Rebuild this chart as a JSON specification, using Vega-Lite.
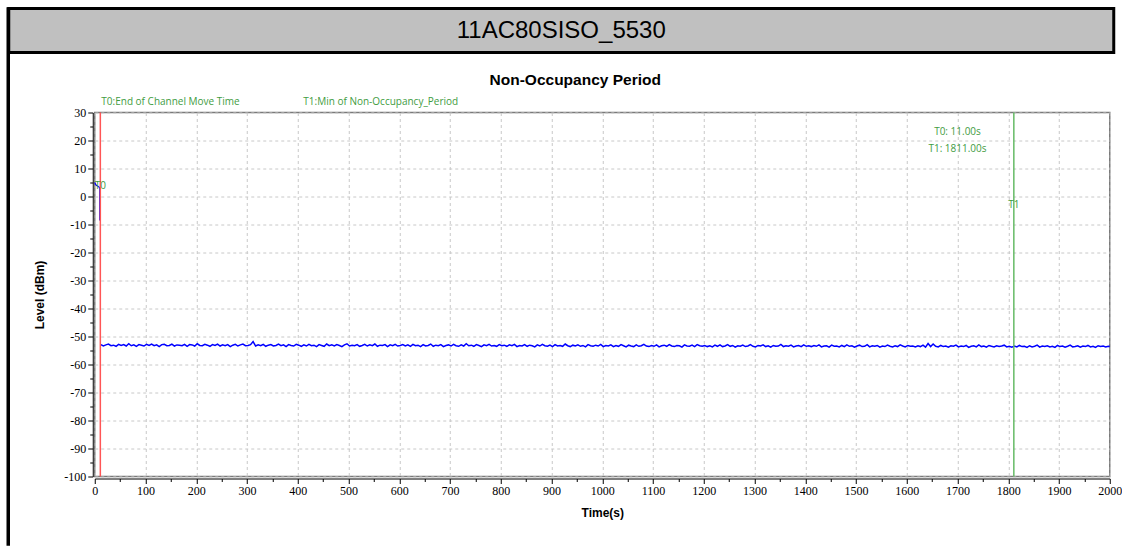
{
  "$schema": "https://vega.github.io/schema/vega-lite/v6.json",
  "background": "white",
  "padding": {"left": 5.75, "top": 6.5, "right": 0, "bottom": 0},
  "bounds": "flush",
  "spacing": 0,
  "datasets": {
    "pre": [{"t":0,"v":5},{"t":2,"v":4.2},{"t":6,"v":3.7},{"t":9.8,"v":3.2},{"t":9.9,"v":-8.6}],
    "markers": [{"name":"T0","t":11,"v":30,"v2":-100},{"name":"T1","t":1811,"v":30,"v2":-100}],
    "labels": [{"label":"T0:End of Channel Move Time","t":13,"v":33.9},{"label":"T1:Min of Non-Occupancy_Period","t":411,"v":33.9}],
    "info": [{"label":"T0: 11.00s","t":1700,"v":23.2},{"label":"T1: 1811.00s","t":1700,"v":17.1}],
    "tags": [{"label":"T0","t":11,"v":3.6},{"label":"T1","t":1811,"v":-2.9}],
    "noise": [
{"t":12,"v":-52.9},{"t":17,"v":-53.4},{"t":22,"v":-53.0},{"t":27,"v":-52.7},{"t":32,"v":-53.3},{"t":37,"v":-53.1},{"t":42,"v":-53.5},{"t":47,"v":-52.8},{"t":52,"v":-53.2},{"t":57,"v":-52.9},
{"t":62,"v":-53.4},{"t":67,"v":-52.6},{"t":72,"v":-53.3},{"t":77,"v":-53.0},{"t":82,"v":-53.5},{"t":87,"v":-52.9},{"t":92,"v":-53.1},{"t":97,"v":-53.4},{"t":102,"v":-52.8},{"t":107,"v":-53.2},
{"t":112,"v":-52.7},{"t":117,"v":-53.3},{"t":122,"v":-53.0},{"t":127,"v":-53.6},{"t":132,"v":-52.9},{"t":137,"v":-52.8},{"t":142,"v":-53.3},{"t":147,"v":-53.2},{"t":152,"v":-52.7},{"t":157,"v":-53.4},
{"t":162,"v":-53.0},{"t":167,"v":-53.1},{"t":172,"v":-53.3},{"t":177,"v":-52.8},{"t":182,"v":-53.5},{"t":187,"v":-52.9},{"t":192,"v":-53.0},{"t":197,"v":-53.4},{"t":202,"v":-52.6},{"t":207,"v":-53.2},
{"t":212,"v":-53.3},{"t":217,"v":-52.8},{"t":222,"v":-53.1},{"t":227,"v":-53.5},{"t":232,"v":-52.9},{"t":237,"v":-53.2},{"t":242,"v":-52.7},{"t":247,"v":-53.4},{"t":252,"v":-53.0},{"t":257,"v":-53.3},
{"t":262,"v":-52.9},{"t":267,"v":-53.6},{"t":272,"v":-53.1},{"t":277,"v":-52.8},{"t":282,"v":-53.4},{"t":287,"v":-53.0},{"t":292,"v":-52.7},{"t":297,"v":-53.3},{"t":302,"v":-53.2},{"t":307,"v":-52.9},
{"t":312,"v":-51.8},{"t":317,"v":-53.4},{"t":322,"v":-53.0},{"t":327,"v":-53.3},{"t":332,"v":-52.8},{"t":337,"v":-53.5},{"t":342,"v":-53.1},{"t":347,"v":-52.9},{"t":352,"v":-53.4},{"t":357,"v":-53.2},
{"t":362,"v":-52.7},{"t":367,"v":-53.3},{"t":372,"v":-53.0},{"t":377,"v":-53.6},{"t":382,"v":-52.9},{"t":387,"v":-53.2},{"t":392,"v":-53.4},{"t":397,"v":-52.8},{"t":402,"v":-53.1},{"t":407,"v":-53.5},
{"t":412,"v":-53.0},{"t":417,"v":-53.4},{"t":422,"v":-52.8},{"t":427,"v":-53.3},{"t":432,"v":-53.1},{"t":437,"v":-53.6},{"t":442,"v":-52.9},{"t":447,"v":-53.2},{"t":452,"v":-53.5},{"t":457,"v":-52.7},
{"t":462,"v":-53.3},{"t":467,"v":-53.0},{"t":472,"v":-53.4},{"t":477,"v":-52.9},{"t":482,"v":-53.2},{"t":487,"v":-53.6},{"t":492,"v":-53.0},{"t":497,"v":-52.6},{"t":502,"v":-53.4},{"t":507,"v":-53.1},
{"t":512,"v":-53.3},{"t":517,"v":-52.9},{"t":522,"v":-53.5},{"t":527,"v":-53.2},{"t":532,"v":-52.8},{"t":537,"v":-53.4},{"t":542,"v":-53.0},{"t":547,"v":-53.3},{"t":552,"v":-52.7},{"t":557,"v":-53.5},
{"t":562,"v":-53.1},{"t":567,"v":-53.2},{"t":572,"v":-52.9},{"t":577,"v":-53.6},{"t":582,"v":-53.0},{"t":587,"v":-53.3},{"t":592,"v":-52.8},{"t":597,"v":-53.4},{"t":602,"v":-53.2},{"t":607,"v":-52.9},
{"t":612,"v":-53.4},{"t":617,"v":-53.0},{"t":622,"v":-53.5},{"t":627,"v":-52.8},{"t":632,"v":-53.3},{"t":637,"v":-53.1},{"t":642,"v":-53.6},{"t":647,"v":-52.9},{"t":652,"v":-53.4},{"t":657,"v":-53.2},
{"t":662,"v":-52.7},{"t":667,"v":-53.5},{"t":672,"v":-53.1},{"t":677,"v":-53.3},{"t":682,"v":-52.9},{"t":687,"v":-53.6},{"t":692,"v":-53.2},{"t":697,"v":-53.0},{"t":702,"v":-53.4},{"t":707,"v":-52.8},
{"t":712,"v":-53.3},{"t":717,"v":-53.5},{"t":722,"v":-53.0},{"t":727,"v":-53.4},{"t":732,"v":-52.6},{"t":737,"v":-53.3},{"t":742,"v":-53.1},{"t":747,"v":-53.5},{"t":752,"v":-52.9},{"t":757,"v":-53.2},
{"t":762,"v":-53.6},{"t":767,"v":-53.0},{"t":772,"v":-53.3},{"t":777,"v":-52.8},{"t":782,"v":-53.4},{"t":787,"v":-53.2},{"t":792,"v":-53.5},{"t":797,"v":-52.9},{"t":802,"v":-53.3},{"t":807,"v":-53.1},
{"t":812,"v":-53.5},{"t":817,"v":-53.0},{"t":822,"v":-53.3},{"t":827,"v":-52.8},{"t":832,"v":-53.6},{"t":837,"v":-53.2},{"t":842,"v":-53.4},{"t":847,"v":-52.9},{"t":852,"v":-53.5},{"t":857,"v":-53.1},
{"t":862,"v":-53.3},{"t":867,"v":-53.7},{"t":872,"v":-53.0},{"t":877,"v":-53.4},{"t":882,"v":-52.8},{"t":887,"v":-53.3},{"t":892,"v":-53.5},{"t":897,"v":-53.1},{"t":902,"v":-53.6},{"t":907,"v":-52.9},
{"t":912,"v":-53.4},{"t":917,"v":-53.2},{"t":922,"v":-53.5},{"t":927,"v":-52.7},{"t":932,"v":-53.3},{"t":937,"v":-53.6},{"t":942,"v":-53.1},{"t":947,"v":-53.4},{"t":952,"v":-53.0},{"t":957,"v":-53.5},
{"t":962,"v":-53.2},{"t":967,"v":-53.7},{"t":972,"v":-52.9},{"t":977,"v":-53.3},{"t":982,"v":-53.5},{"t":987,"v":-53.1},{"t":992,"v":-53.4},{"t":997,"v":-52.8},{"t":1002,"v":-53.6},{"t":1007,"v":-53.2},
{"t":1012,"v":-53.4},{"t":1017,"v":-53.0},{"t":1022,"v":-53.6},{"t":1027,"v":-53.2},{"t":1032,"v":-53.5},{"t":1037,"v":-52.9},{"t":1042,"v":-53.3},{"t":1047,"v":-53.7},{"t":1052,"v":-53.1},{"t":1057,"v":-53.4},
{"t":1062,"v":-53.6},{"t":1067,"v":-53.0},{"t":1072,"v":-53.5},{"t":1077,"v":-53.3},{"t":1082,"v":-52.8},{"t":1087,"v":-53.4},{"t":1092,"v":-53.6},{"t":1097,"v":-53.2},{"t":1102,"v":-53.5},{"t":1107,"v":-53.0},
{"t":1112,"v":-53.7},{"t":1117,"v":-53.3},{"t":1122,"v":-53.1},{"t":1127,"v":-53.5},{"t":1132,"v":-52.9},{"t":1137,"v":-53.4},{"t":1142,"v":-53.6},{"t":1147,"v":-53.2},{"t":1152,"v":-53.3},{"t":1157,"v":-53.8},
{"t":1162,"v":-53.0},{"t":1167,"v":-53.4},{"t":1172,"v":-53.5},{"t":1177,"v":-53.1},{"t":1182,"v":-53.6},{"t":1187,"v":-52.9},{"t":1192,"v":-53.3},{"t":1197,"v":-53.5},{"t":1202,"v":-53.2},{"t":1207,"v":-53.6},
{"t":1212,"v":-53.3},{"t":1217,"v":-53.7},{"t":1222,"v":-53.1},{"t":1227,"v":-53.5},{"t":1232,"v":-53.0},{"t":1237,"v":-53.6},{"t":1242,"v":-53.4},{"t":1247,"v":-52.9},{"t":1252,"v":-53.5},{"t":1257,"v":-53.2},
{"t":1262,"v":-53.8},{"t":1267,"v":-53.3},{"t":1272,"v":-53.5},{"t":1277,"v":-53.1},{"t":1282,"v":-53.6},{"t":1287,"v":-53.4},{"t":1292,"v":-52.9},{"t":1297,"v":-53.5},{"t":1302,"v":-53.7},{"t":1307,"v":-53.2},
{"t":1312,"v":-53.4},{"t":1317,"v":-53.0},{"t":1322,"v":-53.6},{"t":1327,"v":-53.3},{"t":1332,"v":-53.8},{"t":1337,"v":-53.2},{"t":1342,"v":-53.5},{"t":1347,"v":-53.4},{"t":1352,"v":-52.8},{"t":1357,"v":-53.6},
{"t":1362,"v":-53.3},{"t":1367,"v":-53.5},{"t":1372,"v":-53.1},{"t":1377,"v":-53.7},{"t":1382,"v":-53.4},{"t":1387,"v":-53.2},{"t":1392,"v":-53.6},{"t":1397,"v":-53.0},{"t":1402,"v":-53.5},{"t":1407,"v":-53.3},
{"t":1412,"v":-53.6},{"t":1417,"v":-53.2},{"t":1422,"v":-53.5},{"t":1427,"v":-53.0},{"t":1432,"v":-53.7},{"t":1437,"v":-53.4},{"t":1442,"v":-53.3},{"t":1447,"v":-53.8},{"t":1452,"v":-53.1},{"t":1457,"v":-53.5},
{"t":1462,"v":-53.4},{"t":1467,"v":-53.7},{"t":1472,"v":-53.2},{"t":1477,"v":-53.6},{"t":1482,"v":-53.0},{"t":1487,"v":-53.5},{"t":1492,"v":-53.3},{"t":1497,"v":-53.8},{"t":1502,"v":-53.4},{"t":1507,"v":-53.1},
{"t":1512,"v":-53.6},{"t":1517,"v":-53.5},{"t":1522,"v":-52.9},{"t":1527,"v":-53.7},{"t":1532,"v":-53.3},{"t":1537,"v":-53.5},{"t":1542,"v":-53.2},{"t":1547,"v":-53.8},{"t":1552,"v":-53.4},{"t":1557,"v":-53.6},
{"t":1562,"v":-53.1},{"t":1567,"v":-53.5},{"t":1572,"v":-53.7},{"t":1577,"v":-53.3},{"t":1582,"v":-53.6},{"t":1587,"v":-53.0},{"t":1592,"v":-53.4},{"t":1597,"v":-53.7},{"t":1602,"v":-53.2},{"t":1607,"v":-53.5},
{"t":1612,"v":-53.4},{"t":1617,"v":-53.7},{"t":1622,"v":-53.3},{"t":1627,"v":-53.6},{"t":1632,"v":-53.1},{"t":1637,"v":-53.8},{"t":1642,"v":-52.5},{"t":1647,"v":-53.6},{"t":1652,"v":-52.7},{"t":1657,"v":-53.5},
{"t":1662,"v":-53.7},{"t":1667,"v":-53.2},{"t":1672,"v":-53.6},{"t":1677,"v":-53.4},{"t":1682,"v":-53.8},{"t":1687,"v":-53.3},{"t":1692,"v":-53.5},{"t":1697,"v":-53.1},{"t":1702,"v":-53.7},{"t":1707,"v":-53.4},
{"t":1712,"v":-53.6},{"t":1717,"v":-53.2},{"t":1722,"v":-53.9},{"t":1727,"v":-53.5},{"t":1732,"v":-53.3},{"t":1737,"v":-53.7},{"t":1742,"v":-53.0},{"t":1747,"v":-53.6},{"t":1752,"v":-53.4},{"t":1757,"v":-53.8},
{"t":1762,"v":-53.2},{"t":1767,"v":-53.5},{"t":1772,"v":-53.7},{"t":1777,"v":-53.3},{"t":1782,"v":-53.6},{"t":1787,"v":-53.4},{"t":1792,"v":-53.1},{"t":1797,"v":-53.7},{"t":1802,"v":-53.5},{"t":1807,"v":-53.8},
{"t":1812,"v":-53.4},{"t":1817,"v":-53.7},{"t":1822,"v":-53.2},{"t":1827,"v":-53.6},{"t":1832,"v":-53.5},{"t":1837,"v":-53.9},{"t":1842,"v":-53.3},{"t":1847,"v":-53.7},{"t":1852,"v":-53.5},{"t":1857,"v":-53.1},
{"t":1862,"v":-53.8},{"t":1867,"v":-53.4},{"t":1872,"v":-53.6},{"t":1877,"v":-53.3},{"t":1882,"v":-53.7},{"t":1887,"v":-53.5},{"t":1892,"v":-53.9},{"t":1897,"v":-53.2},{"t":1902,"v":-53.6},{"t":1907,"v":-53.4},
{"t":1912,"v":-53.8},{"t":1917,"v":-53.5},{"t":1922,"v":-53.1},{"t":1927,"v":-53.7},{"t":1932,"v":-53.6},{"t":1937,"v":-53.3},{"t":1942,"v":-53.8},{"t":1947,"v":-53.4},{"t":1952,"v":-53.6},{"t":1957,"v":-53.2},
{"t":1962,"v":-53.7},{"t":1967,"v":-53.5},{"t":1972,"v":-53.9},{"t":1977,"v":-53.3},{"t":1982,"v":-53.6},{"t":1987,"v":-53.4},{"t":1992,"v":-53.7},{"t":1997,"v":-53.5},{"t":2000,"v":-53.6}
    ]
  },
  "hconcat": [
    {
      "width": 1, "height": 536,
      "data": {"values": []},
      "mark": "rect",
      "encoding": {},
      "view": {"stroke": "black", "strokeWidth": 2.5}
    },
    {
      "bounds": "flush",
      "spacing": 60,
      "vconcat": [
        {
          "width": 1105, "height": 44,
          "data": {"values": [{"name": "11AC80SISO_5530"}]},
          "mark": {"type": "text", "font": "Liberation Sans", "fontSize": 24, "align": "center", "baseline": "middle", "color": "#000000"},
          "encoding": {"text": {"field": "name"}},
          "view": {"fill": "#c0c0c0", "stroke": "black", "strokeWidth": 3}
        },
        {
          "bounds": "flush",
          "spacing": 85,
          "hconcat": [
            {
              "width": 1, "height": 1,
              "data": {"values": []},
              "mark": "rect",
              "encoding": {},
              "view": {"stroke": null}
            },
            {
              "width": 1015, "height": 364,
              "view": {"stroke": "#7a7a7a", "strokeWidth": 1.5},
              "title": {"text": "Non-Occupancy Period", "font": "Liberation Sans", "fontSize": 15.5, "fontWeight": "bold", "color": "#000000", "anchor": "middle", "frame": "group", "dx": -27, "offset": 8},
              "encoding": {
                "x": {"field": "t", "type": "quantitative", "title": "Time(s)",
                  "scale": {"domain": [0, 2000], "nice": false, "zero": false},
                  "axis": {
                    "values": [0,50,100,150,200,250,300,350,400,450,500,550,600,650,700,750,800,850,900,950,1000,1050,1100,1150,1200,1250,1300,1350,1400,1450,1500,1550,1600,1650,1700,1750,1800,1850,1900,1950,2000],
                    "labelExpr": "datum.value % 100 === 0 ? '' + datum.value : ''",
                    "tickSize": {"condition": {"test": "datum.value % 100 === 0", "value": 5}, "value": 3},
                    "gridOpacity": {"condition": {"test": "datum.value % 100 === 0", "value": 1}, "value": 0},
                    "gridColor": "#c8c8c8", "gridDash": [3, 3], "gridWidth": 1,
                    "offset": 2,
                    "domainColor": "#000000", "tickColor": "#000000",
                    "labelColor": "#000000", "labelFont": "Liberation Sans Narrow", "labelFontSize": 12,
                    "labelPadding": 2, "labelFlush": false, "labelOverlap": false,
                    "titleFont": "Liberation Sans", "titleFontSize": 12, "titleFontWeight": "bold", "titleColor": "#000000", "titlePadding": 11
                  }
                },
                "y": {"field": "v", "type": "quantitative", "title": "Level (dBm)",
                  "scale": {"domain": [-100, 30], "nice": false, "zero": false},
                  "axis": {
                    "values": [-100,-95,-90,-85,-80,-75,-70,-65,-60,-55,-50,-45,-40,-35,-30,-25,-20,-15,-10,-5,0,5,10,15,20,25,30],
                    "labelExpr": "datum.value % 10 === 0 ? '' + datum.value : ''",
                    "tickSize": {"condition": {"test": "datum.value % 10 === 0", "value": 5}, "value": 3},
                    "gridOpacity": {"condition": {"test": "datum.value % 10 === 0", "value": 1}, "value": 0},
                    "gridColor": "#c8c8c8", "gridDash": [3, 3], "gridWidth": 1,
                    "offset": 2,
                    "domainColor": "#000000", "tickColor": "#000000",
                    "labelColor": "#000000", "labelFont": "Liberation Sans Narrow", "labelFontSize": 12,
                    "labelPadding": 2, "labelFlush": false, "labelOverlap": false,
                    "titleFont": "Liberation Sans", "titleFontSize": 12, "titleFontWeight": "bold", "titleColor": "#000000", "titlePadding": 17
                  }
                }
              },
              "layer": [
                {
                  "data": {"name": "noise"},
                  "mark": {"type": "line", "color": "#0000ff", "strokeWidth": 1.5}
                },
                {
                  "data": {"name": "pre"},
                  "mark": {"type": "line", "color": "#0000ff", "strokeWidth": 1.2}
                },
                {
                  "data": {"name": "markers"},
                  "mark": {"type": "rule", "strokeWidth": 1.5},
                  "encoding": {
                    "y2": {"field": "v2"},
                    "color": {"field": "name", "type": "nominal", "scale": {"domain": ["T0", "T1"], "range": ["#ff5555", "#66bb66"]}, "legend": null}
                  }
                },
                {
                  "data": {"name": "labels"},
                  "mark": {"type": "text", "align": "left", "baseline": "middle", "font": "Open Sans", "fontSize": 10, "color": "#3f9c3f"},
                  "encoding": {"text": {"field": "label"}}
                },
                {
                  "data": {"name": "info"},
                  "mark": {"type": "text", "align": "center", "baseline": "middle", "font": "Open Sans", "fontSize": 10, "color": "#3f9c3f"},
                  "encoding": {"text": {"field": "label"}}
                },
                {
                  "data": {"name": "tags"},
                  "mark": {"type": "text", "align": "center", "baseline": "middle", "font": "Open Sans", "fontSize": 10, "color": "#3f9c3f"},
                  "encoding": {"text": {"field": "label"}}
                }
              ]
            }
          ]
        }
      ]
    }
  ]
}
